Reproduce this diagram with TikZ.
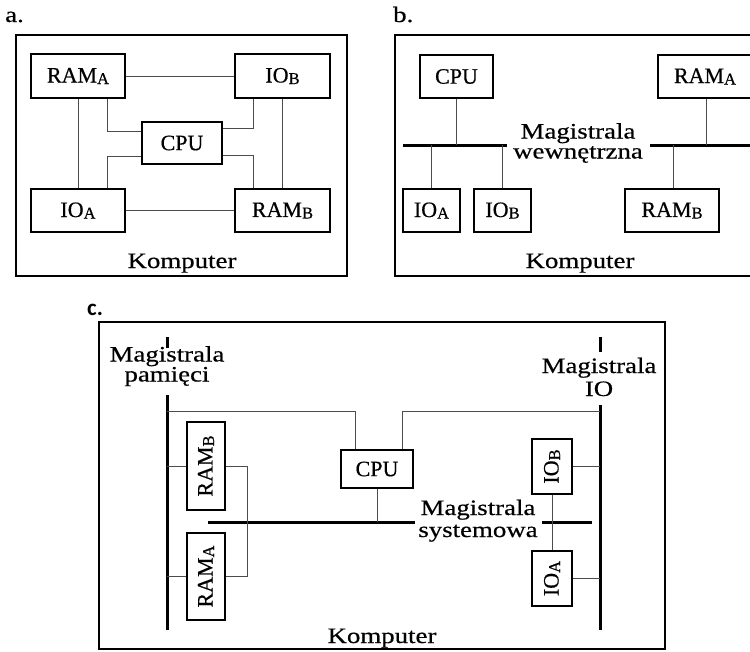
\documentclass[tikz,border=0pt]{standalone}
\usepackage{fontspec}
\setmainfont[FakeBold=0.5]{Liberation Serif}
\newfontfamily\widefont[FakeStretch=1.22,FakeBold=0.5]{Liberation Serif}
\newfontfamily\boldsans{Carlito}
\newcommand{\sbs}[1]{\raisebox{-1.5pt}{\fontsize{16.5}{16.5}\selectfont #1}}
\newcommand{\twolines}[3]{\vtop{\baselineskip=#1\lineskiplimit=-100pt\lineskip=0pt\halign{\hfil##\hfil\cr #2\cr #3\cr}}}
\definecolor{conncol}{gray}{0.3}
\begin{document}
\begin{tikzpicture}[x=1pt,y=-1pt,
  unit/.style={draw, line width=1.4pt, inner sep=0pt, font=\fontsize{22}{22}\selectfont},
  conn/.style={draw=conncol, line width=1pt},
  bus/.style={draw=black, line width=3pt},
  frame/.style={draw=black, line width=2pt},
  lbl/.style={anchor=base, inner sep=0pt, font=\widefont\fontsize{22}{22}\selectfont},
]
\useasboundingbox (0,0) rectangle (750,651);
\clip (0,0) rectangle (750,651);

% ---------------- panel a ----------------
\node[lbl, anchor=base west] (la) at (5,22) {a.};
\draw[frame] (16,35) rectangle (347,276);
\node[unit, minimum width=94pt, minimum height=44pt] (aramA) at (78,76) {RAM\sbs{A}};
\node[unit, minimum width=95pt, minimum height=44pt] (aioB) at (282.5,76) {IO\sbs{B}};
\node[unit, minimum width=80pt, minimum height=42pt] (acpu) at (182,143) {CPU};
\node[unit, minimum width=94pt, minimum height=43pt] (aioA) at (78,210.5) {IO\sbs{A}};
\node[unit, minimum width=95pt, minimum height=43pt] (aramB) at (282.5,210.5) {RAM\sbs{B}};
\node[lbl] (akomp) at (182,268) {Komputer};

\draw[conn] (aramA.east) -- (aioB.west);
\draw[conn] (aioA.east) -- (aramB.west);
\draw[conn] (aramA.south) -- (aioA.north);
\draw[conn] (aioB.south) -- (aramB.north);
\draw[conn] ([xshift=29pt]aramA.south) |- ([yshift=12pt]acpu.west);
\draw[conn] ([xshift=29pt]aioA.north) |- ([yshift=-13pt]acpu.west);
\draw[conn] ([xshift=-29.5pt]aioB.south) |- ([yshift=15pt]acpu.east);
\draw[conn] ([xshift=-29.5pt]aramB.north) |- ([yshift=-12pt]acpu.east);

% ---------------- panel b ----------------
\node[lbl, anchor=base west] (lb) at (393,22) {b.};
\draw[frame] (395,35) rectangle (770,276);
\node[unit, minimum width=73pt, minimum height=43pt] (bcpu) at (456.5,76.5) {CPU};
\node[unit, minimum width=94pt, minimum height=43pt] (bramA) at (705,76.5) {RAM\sbs{A}};
\node[unit, minimum width=57pt, minimum height=43pt] (bioA) at (431.5,210.5) {IO\sbs{A}};
\node[unit, minimum width=57pt, minimum height=43pt] (bioB) at (502.5,210.5) {IO\sbs{B}};
\node[unit, minimum width=94pt, minimum height=43pt] (bramB) at (672,210.5) {RAM\sbs{B}};
\coordinate (bbus1) at (403,145);
\coordinate (bbus2) at (507,145);
\coordinate (bbus3) at (650,145);
\coordinate (bbus4) at (770,145);
\draw[bus] (bbus1) -- (bbus2);
\draw[bus] (bbus3) -- (bbus4);
\node[lbl] (bmag) at (578,138.5) {\twolines{20pt}{Magistrala}{wewnętrzna}};
\draw[conn] (bcpu.south) -- (bcpu.south |- bbus1);
\draw[conn] (bioA.north) -- (bioA.north |- bbus1);
\draw[conn] (bioB.north) -- (bioB.north |- bbus1);
\draw[conn] ([xshift=1pt]bramA.south) -- ([xshift=1pt]bramA.south |- bbus3);
\draw[conn] ([xshift=1pt]bramB.north) -- ([xshift=1pt]bramB.north |- bbus3);
\node[lbl] (bkomp) at (580,268) {Komputer};

% ---------------- panel c ----------------
\node[anchor=base west, inner sep=0pt, font=\boldsans\bfseries\fontsize{23}{23}\selectfont] (lc) at (87,315) {c.};
\draw[frame] (99,322) rectangle (665,649);

% memory bus
\coordinate (mb0) at (167,337);
\coordinate (mb1) at (167,348);
\coordinate (mb2) at (167,395);
\coordinate (mb3) at (167,630);
\draw[bus] (mb0) -- (mb1);
\draw[bus] (mb2) -- (mb3);
\node[lbl] (cmagmem) at (167,361.5) {\twolines{20pt}{Magistrala}{pamięci}};

% IO bus
\coordinate (ib0) at (600,337);
\coordinate (ib1) at (600,352);
\coordinate (ib2) at (600,405);
\coordinate (ib3) at (600,630);
\draw[bus] (ib0) -- (ib1);
\draw[bus] (ib2) -- (ib3);
\node[lbl] (cmagio) at (599,373) {\twolines{23pt}{Magistrala}{IO}};

% system bus
\coordinate (sb0) at (208,522);
\coordinate (sb1) at (415,522);
\coordinate (sb2) at (542,522);
\coordinate (sb3) at (592,522);
\draw[bus] (sb0) -- (sb1);
\draw[bus] (sb2) -- (sb3);
\node[lbl] (cmagsys) at (478,515) {\twolines{22pt}{Magistrala}{systemowa}};

% units
\node[unit, minimum width=72pt, minimum height=38pt] (ccpu) at (377,469) {CPU};
\node[unit, minimum width=38pt, minimum height=88pt] (cramB) at (206,466) {\rotatebox{90}{RAM\sbs{B}}};
\node[unit, minimum width=38pt, minimum height=87pt] (cramA) at (206,576.5) {\rotatebox{90}{RAM\sbs{A}}};
\node[unit, minimum width=40pt, minimum height=55pt] (cioB) at (552,466.5) {\rotatebox{90}{IO\sbs{B}}};
\node[unit, minimum width=40pt, minimum height=55pt] (cioA) at (552,578.5) {\rotatebox{90}{IO\sbs{A}}};

% connectors
\coordinate (cm) at (167,411);
\coordinate (ci) at (600,411);
\draw[conn] (cm) -| ([xshift=-22pt]ccpu.north);
\draw[conn] ([xshift=25pt]ccpu.north) |- (ci);
\draw[conn] (ccpu.south) -- (ccpu.south |- sb0);
\draw[conn] (cramB.west) -- (cramB.west -| mb2);
\draw[conn] (cramA.west) -- (cramA.west -| mb2);
\draw[conn] (cramB.east) -- ++(22,0) |- (cramA.east);
\draw[conn] (cioB.east) -- (cioB.east -| ib2);
\draw[conn] (cioA.east) -- (cioA.east -| ib2);
\draw[conn] (cioB.south) -- (cioA.north);

\node[lbl] (ckomp) at (382,643) {Komputer};
\end{tikzpicture}
\end{document}
